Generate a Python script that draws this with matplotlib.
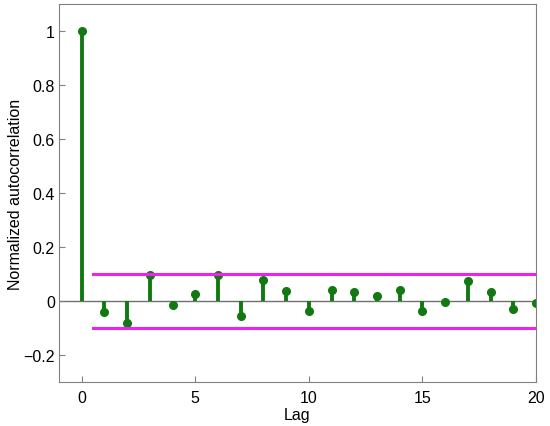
import numpy as np
import matplotlib.pyplot as plt

plt.rcParams['font.family'] = ['Liberation Sans', 'DejaVu Sans']

lags = np.arange(0, 21)
acf = [1.0, -0.042, -0.083, 0.095, -0.014, 0.027, 0.098, -0.057, 0.077, 0.038,
       -0.038, 0.04, 0.034, 0.017, 0.04, -0.037, -0.003, 0.073, 0.034, -0.031, -0.008]
bound = 0.1
bound_x = [0.5, 20]

fig = plt.figure(figsize=(5.5, 4.27), dpi=100)
ax = fig.add_axes([59/550, 1-383/427, (536-59)/550, (383-5)/427])

green = '#127812'
ax.axhline(0, color='#707070', lw=1, zorder=1)
ml, sl, bl = ax.stem(lags, acf, basefmt=' ')
plt.setp(sl, color=green, lw=2.8)
plt.setp(ml, color=green, markersize=5.5)
ax.plot(bound_x, [bound, bound], color='#ee22ee', lw=2.2)
ax.plot(bound_x, [-bound, -bound], color='#ee22ee', lw=2.2)

ax.set_xlim(-1, 20)
ax.set_ylim(-0.3, 1.1)
ax.set_xticks([0, 5, 10, 15, 20])
ax.set_yticks([-0.2, 0, 0.2, 0.4, 0.6, 0.8, 1])
ax.set_yticklabels(['\u22120.2', '0', '0.2', '0.4', '0.6', '0.8', '1'])
for s in ax.spines.values():
    s.set_color('#808080')
ax.tick_params(direction='in', color='#808080', labelsize=11.5, length=4, pad=6)
ax.tick_params(axis='y', pad=3)
ax.set_xlabel('Lag', fontsize=11.5, labelpad=1)
ax.set_ylabel('Normalized autocorrelation', fontsize=11.5, labelpad=0)

fig.savefig('out.png')
